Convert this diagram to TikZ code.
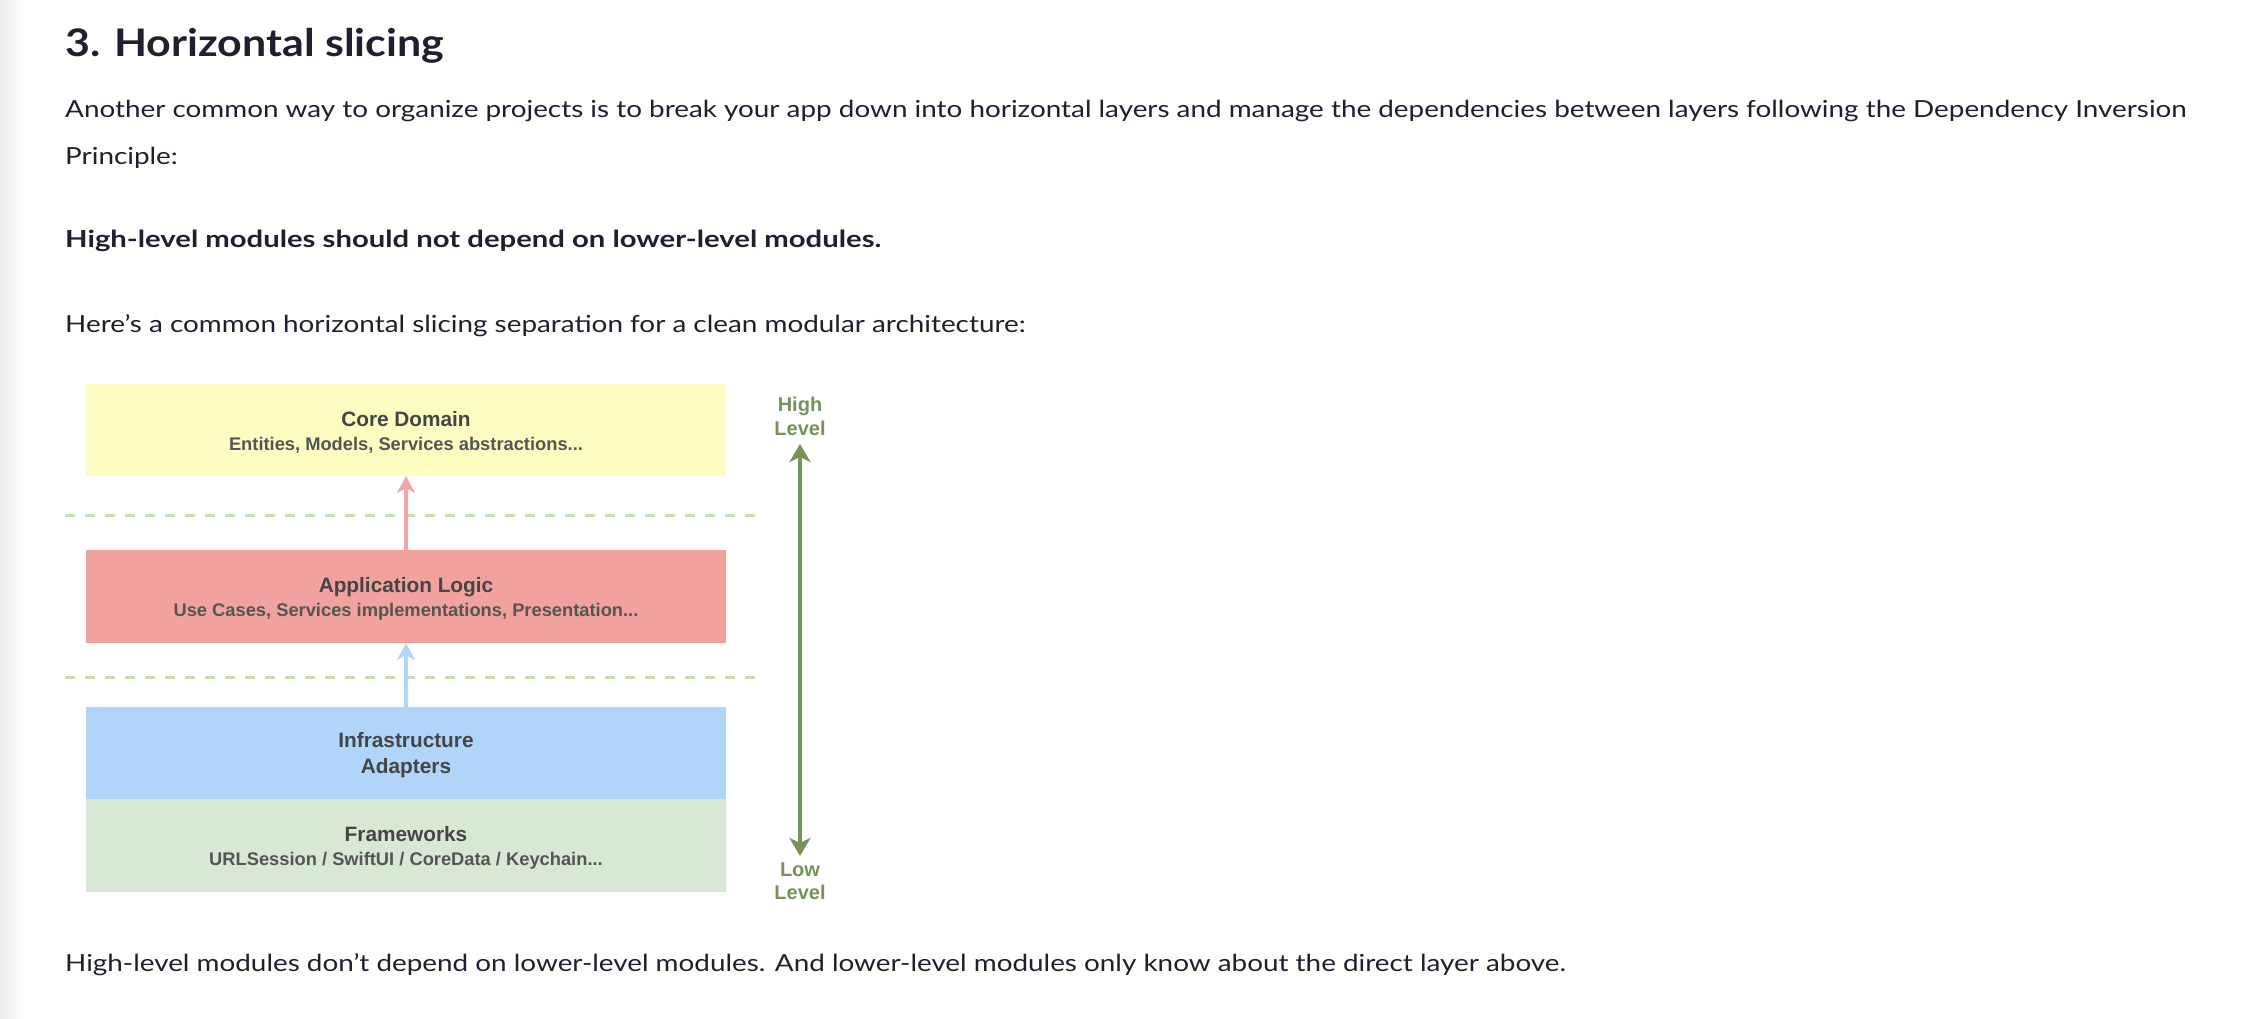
\documentclass[tikz,border=0pt]{standalone}
\usepackage{fontspec}
\setmainfont{Lato}
\newfontfamily\bodyfont[FakeStretch=1.185]{Lato}
\newfontfamily\boldbody[FakeStretch=1.245, UprightFont={* Bold}]{Lato}
\newfontfamily\headfont[FakeStretch=1.13, UprightFont={* Bold}]{Lato}
\newfontfamily\boxfont{Liberation Sans}
\usetikzlibrary{arrows.meta}
\definecolor{txt}{HTML}{1E2030}
\definecolor{boxtxt}{HTML}{454545}
\definecolor{subtxt}{HTML}{555555}
\definecolor{coreC}{HTML}{FDFDC1}
\definecolor{appC}{HTML}{F1A29E}
\definecolor{infraC}{HTML}{B0D5F9}
\definecolor{fwC}{HTML}{D9E7D5}
\definecolor{dashC}{HTML}{C4E2B0}
\definecolor{redA}{HTML}{F3A6A6}
\definecolor{blueA}{HTML}{B0D6F9}
\definecolor{greenA}{HTML}{769459}
\definecolor{edgeC}{HTML}{ECEEEE}
\newcommand{\subfnt}{\boxfont\bfseries\fontsize{18.3}{25}\selectfont\color{subtxt}}
\newcommand{\topstrut}{\rule{0pt}{19.5pt}}
\tikzset{
  layer/.style={inner sep=0pt, outer sep=0pt, minimum width=640pt, minimum height=92.5pt, align=center, font=\boxfont\bfseries\fontsize{20.8}{25.5}\selectfont, text=boxtxt},
  sep/.style={dashC, line width=3pt, dash pattern=on 10pt off 10pt},
  dep/.style={line width=3.5pt, -{Stealth[length=17pt, width=18pt, inset=5pt]}},
  lvl/.style={text=greenA, align=center, font=\boxfont\bfseries\fontsize{20}{23.5}\selectfont},
  lvlarrow/.style={greenA, line width=4pt, {Stealth[length=18pt, width=21pt, inset=5pt]}-{Stealth[length=18pt, width=21pt, inset=5pt]}},
  para/.style={anchor=base west, inner sep=0pt, text=txt, font=\bodyfont\fontsize{23.5}{28}\selectfont}
}
\begin{document}
\begin{tikzpicture}[x=1pt,y=-1pt]
\useasboundingbox (0,0) rectangle (2252,1018);
\fill[white] (0,0) rectangle (2252,1018);
\shade[left color=edgeC, right color=white] (0,0) rectangle (26,1018);
% texts
\node[para, font=\headfont\fontsize{38}{44}\selectfont] (title) at (65,56) {3. Horizontal slicing};
\node[para] (p1) at (65,117) {Another common way to organize projects is to break your app down into horizontal layers and manage the dependencies between layers following the Dependency Inversion};
\node[para] (p2) at (65,164) {Principle:};
\node[para, font=\boldbody\fontsize{23.5}{28}\selectfont] (p3) at (65,247) {High-level modules should not depend on lower-level modules.};
\node[para] (p4) at (65,332) {Here’s a common horizontal slicing separation for a clean modular architecture:};
\node[para] (p5) at (65,971) {High-level modules don’t depend on lower-level modules. And lower-level modules only know about the direct layer above.};
% layers
\node[layer, fill=coreC, minimum height=92pt] (core) at (406,430) {\topstrut Core Domain\\[-1pt]{\subfnt Entities, Models, Services abstractions...}};
\node[layer, fill=appC, minimum height=93pt] (app) at (406,596.5) {\topstrut Application Logic\\[-1pt]{\subfnt Use Cases, Services implementations, Presentation...}};
\node[layer, fill=infraC, minimum height=92pt] (infra) at (406,753) {\topstrut Infrastructure\\Adapters};
\node[layer, fill=fwC, minimum height=93pt] (fw) at (406,845.5) {\topstrut Frameworks\\[-1pt]{\subfnt URLSession / SwiftUI / CoreData / Keychain...}};
% separators
\coordinate (s1a) at (65,515); \coordinate (s1b) at (760,515);
\coordinate (s2a) at (65,677); \coordinate (s2b) at (760,677);
\draw[sep] (s1a) -- (s1b);
\draw[sep] (s2a) -- (s2b);
% dependencies
\draw[dep, redA] (app.north) -- (core.south);
\draw[dep, blueA] (infra.north) -- (app.south);
% level axis
\node[lvl] (high) at (800,416.5) {High\\Level};
\node[lvl] (low) at (800,881) {Low\\Level};
\coordinate (ht) at (800,444);
\coordinate (lt) at (800,856);
\draw[lvlarrow] (ht) -- (lt);
\end{tikzpicture}
\end{document}
